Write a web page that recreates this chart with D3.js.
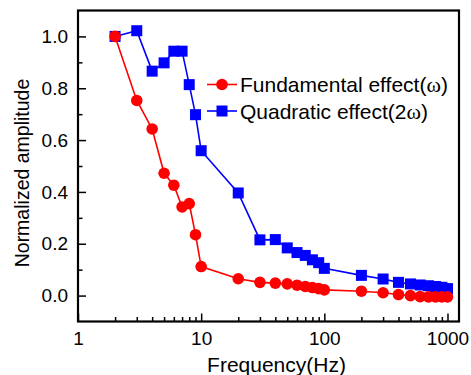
<!DOCTYPE html>
<html>
<head>
<meta charset="utf-8">
<script src="https://cdn.jsdelivr.net/npm/d3@7"></script>
<style>
  body { margin: 0; background: #fff; }
  svg { font-family: "Liberation Sans", Arial, sans-serif; }
  .axis path { display: none; }
  .axis line { stroke: #000; stroke-width: 1.5; }
  .axis text { font-size: 19px; fill: #000; }
</style>
</head>
<body>
<script>
let w = 471, h = 375;
let margin = {left: 78, right: 12, top: 10.5, bottom: 53.5};

// frequency (Hz)
let freq = [2, 3, 4, 5, 6, 7, 8, 9, 10, 20, 30, 40, 50, 60, 70, 80, 90, 100,
            200, 300, 400, 500, 600, 700, 800, 900, 1000];
// fundamental effect (omega)
let fundamental = [1.0, 0.753, 0.643, 0.472, 0.426, 0.342, 0.355, 0.235, 0.112,
                   0.065, 0.051, 0.048, 0.045, 0.040, 0.035, 0.031, 0.027, 0.022,
                   0.017, 0.011, 0.004, 0.0, -0.004, -0.005, -0.005, -0.005, -0.005];
// quadratic effect (2 omega)
let quadratic = [1.0, 1.022, 0.866, 0.898, 0.943, 0.943, 0.814, 0.698, 0.559,
                 0.396, 0.215, 0.216, 0.184, 0.166, 0.155, 0.138, 0.127, 0.105,
                 0.078, 0.064, 0.051, 0.045, 0.041, 0.038, 0.035, 0.032, 0.027];

let xMajor = [1, 10, 100, 1000];
let xMinor = [2, 3, 4, 5, 6, 7, 8, 9, 20, 30, 40, 50, 60, 70, 80, 90,
              200, 300, 400, 500, 600, 700, 800, 900];
let yMajor = [0.0, 0.2, 0.4, 0.6, 0.8, 1.0];
let yMinor = [0.1, 0.3, 0.5, 0.7, 0.9];

let svg = d3.select("body").append("svg").attr("width", w).attr("height", h);

let x = d3.scaleLog().domain([1, 1240]).range([margin.left, w - margin.right]);
let y = d3.scaleLinear().domain([-0.1, 1.1]).range([h - margin.bottom, margin.top]);

// axes
svg.append("g").attr("class", "axis")
   .attr("transform", "translate(0," + (h - margin.bottom) + ")")
   .call(d3.axisBottom(x).tickValues(xMajor).tickFormat(d3.format("d"))
         .tickSizeInner(-8).tickSizeOuter(0).tickPadding(10));
svg.append("g").attr("class", "axis")
   .attr("transform", "translate(0," + (h - margin.bottom) + ")")
   .call(d3.axisBottom(x).tickValues(xMinor).tickFormat("")
         .tickSizeInner(-4.5).tickSizeOuter(0));
svg.append("g").attr("class", "axis")
   .attr("transform", "translate(" + margin.left + ",0)")
   .call(d3.axisLeft(y).tickValues(yMajor).tickFormat(d3.format(".1f"))
         .tickSizeInner(-8).tickSizeOuter(0).tickPadding(10));
svg.append("g").attr("class", "axis")
   .attr("transform", "translate(" + margin.left + ",0)")
   .call(d3.axisLeft(y).tickValues(yMinor).tickFormat("")
         .tickSizeInner(-4.5).tickSizeOuter(0));

// frame
svg.append("rect")
   .attr("x", margin.left).attr("y", margin.top)
   .attr("width", w - margin.left - margin.right)
   .attr("height", h - margin.top - margin.bottom)
   .attr("fill", "none").attr("stroke", "#000").attr("stroke-width", 2.2);

let fundData = freq.map((f, i) => ({f: f, v: fundamental[i]}));
let quadData = freq.map((f, i) => ({f: f, v: quadratic[i]}));

let line = d3.line().x(d => x(d.f)).y(d => y(d.v));

svg.append("path").datum(quadData)
   .attr("fill", "none").attr("stroke", "#0000ff").attr("stroke-width", 1.6)
   .attr("d", line);
svg.append("g").selectAll("rect").data(quadData).join("rect")
   .attr("x", d => x(d.f) - 5.5).attr("y", d => y(d.v) - 5.5)
   .attr("width", 11).attr("height", 11).attr("fill", "#0000ff");

svg.append("path").datum(fundData)
   .attr("fill", "none").attr("stroke", "#ff0000").attr("stroke-width", 1.6)
   .attr("d", line);
svg.append("g").selectAll("circle").data(fundData).join("circle")
   .attr("cx", d => x(d.f)).attr("cy", d => y(d.v)).attr("r", 5.8)
   .attr("fill", "#ff0000");

// legend
let legend = [
  {label: "Fundamental effect(", sym: "\u03c9", after: ")", color: "#ff0000", shape: "circle"},
  {label: "Quadratic effect(2", sym: "\u03c9", after: ")", color: "#0000ff", shape: "square"}
];
legend.forEach((d, i) => {
  let yy = 84.5 + i * 26.5;
  let g = svg.append("g");
  g.append("line").attr("x1", 207).attr("x2", 237).attr("y1", yy).attr("y2", yy)
   .attr("stroke", d.color).attr("stroke-width", 1.6);
  if (d.shape === "circle") {
    g.append("circle").attr("cx", 222).attr("cy", yy).attr("r", 5.8).attr("fill", d.color);
  } else {
    g.append("rect").attr("x", 216.5).attr("y", yy - 5.5).attr("width", 11).attr("height", 11)
     .attr("fill", d.color);
  }
  let t = g.append("text").attr("x", 240).attr("y", yy + 7.5)
           .attr("font-size", 21).attr("fill", "#000");
  t.append("tspan").text(d.label);
  t.append("tspan").attr("font-family", "Liberation Serif, serif").attr("font-size", 22).text(d.sym);
  t.append("tspan").text(d.after);
});

// axis titles
svg.append("text").attr("x", 276.5).attr("y", 372)
   .attr("text-anchor", "middle").attr("font-size", 21).text("Frequency(Hz)");
svg.append("text").attr("transform", "translate(29,173) rotate(-90)")
   .attr("text-anchor", "middle").attr("font-size", 19.5).text("Normalized amplitude");
</script>
</body>
</html>
